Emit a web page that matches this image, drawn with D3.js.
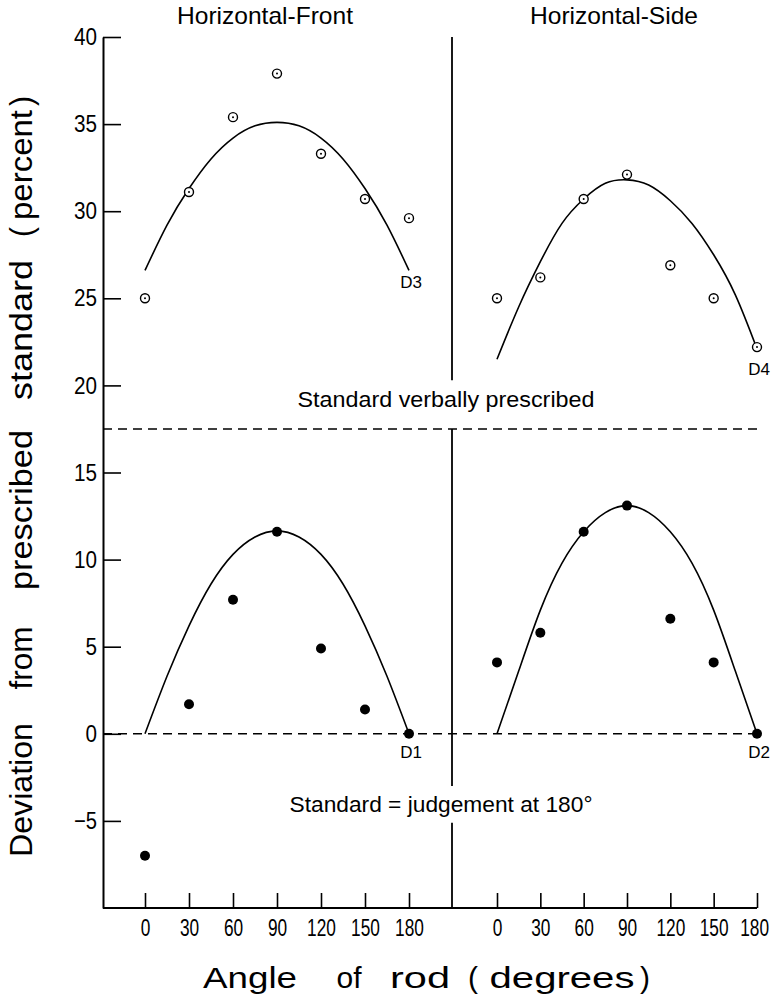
<!DOCTYPE html>
<html>
<head>
<meta charset="utf-8">
<script src="https://cdn.jsdelivr.net/npm/d3@7"></script>
<style>
  body { margin: 0; background: #fff; }
  svg { display: block; font-family: "Liberation Sans", Arial, sans-serif; }
  text { fill: #000; }
</style>
</head>
<body>
<svg id="svg1" width="774" height="996"></svg>
<script>
// measured points, angle of rod (degrees) vs deviation (percent)
var angles = [0, 30, 60, 90, 120, 150, 180];
var frontTop = [25.0, 31.1, 35.4, 37.9, 33.3, 30.7, 29.6];     // D3
var sideTop = [25.0, 26.2, 30.7, 32.1, 26.9, 25.0, 22.2];      // D4
var frontBottom = [-7.0, 1.7, 7.7, 11.6, 4.9, 1.4, 0];          // D1
var sideBottom = [4.1, 5.8, 11.6, 13.1, 6.6, 4.1, 0];           // D2

// fitted curves, every 15 degrees
var fitAngles = [0, 15, 30, 45, 60, 75, 90, 105, 120, 135, 150, 165, 180];
var frontTopFit = [26.6, 29.2, 31.3, 33.0, 34.2, 34.9, 35.1, 34.9, 34.2, 33.0, 31.3, 29.2, 26.6];
var sideTopFit = [21.5, 24.5, 27.1, 29.3, 30.7, 31.6, 31.8, 31.5, 30.6, 29.3, 27.5, 25.2, 22.1];
var frontBottomFit = [0, 3.3, 6.2, 8.6, 10.3, 11.3, 11.65, 11.3, 10.3, 8.6, 6.2, 3.3, 0];
var sideBottomFit = [0, 3.6, 7.1, 9.8, 11.6, 12.7, 13.1, 12.7, 11.6, 9.8, 7.1, 3.6, 0];

var yTicks = [-5, 0, 5, 10, 15, 20, 25, 30, 35, 40];
var standardLevel = 17.5;
var zeroLevel = 0;

var svg = d3.select('svg');

var y = d3.scaleLinear().domain([-10, 40]).range([908, 37]);
var xL = d3.scaleLinear().domain([0, 180]).range([145, 409]);
var xR = d3.scaleLinear().domain([0, 180]).range([497, 757]);
var axisX = 103;
var dividerX = 452;

// y axis, ticks pointing inward
var yAxis = svg.append('g')
    .attr('transform', 'translate(' + axisX + ',0)')
    .call(d3.axisLeft(y).tickValues(yTicks).tickSizeInner(-18).tickSizeOuter(0).tickPadding(6));
yAxis.select('.domain').attr('stroke-width', 2);
yAxis.selectAll('.tick line').attr('stroke-width', 1.6);
yAxis.selectAll('.tick text')
    .attr('font-size', 24)
    .attr('font-family', '"Liberation Sans", Arial, sans-serif')
    .attr('textLength', function(d) { return String(d).length * 11.5; })
    .attr('lengthAdjust', 'spacingAndGlyphs');

// bottom line
svg.append('line')
    .attr('x1', axisX).attr('x2', xR(180))
    .attr('y1', y(-10)).attr('y2', y(-10))
    .attr('stroke', '#000').attr('stroke-width', 2);

[xL, xR].forEach(function(sc) {
    var g = svg.append('g')
        .attr('transform', 'translate(0,' + y(-10) + ')')
        .call(d3.axisBottom(sc).tickValues(angles).tickSizeInner(-15).tickSizeOuter(0).tickPadding(11));
    g.select('.domain').remove();
    g.selectAll('.tick line').attr('stroke-width', 1.6);
    // narrow face: squeeze the digits sideways
    g.selectAll('.tick text')
        .attr('font-size', 24)
        .attr('font-family', '"Liberation Sans", Arial, sans-serif')
        .attr('transform', 'scale(0.72,1)');
    if (sc === xR) {
        g.selectAll('.tick text').filter(function(d) { return d === 180; }).attr('dx', -4);
    }
});

// divider between the two panels, broken where the text crosses it
[[40, 20.3], [standardLevel, -3.0], [-5.1, -10]].forEach(function(s) {
    svg.append('line')
        .attr('x1', dividerX).attr('x2', dividerX)
        .attr('y1', y(s[0])).attr('y2', y(s[1]))
        .attr('stroke', '#000').attr('stroke-width', 1.8);
});

// dashed reference lines
[standardLevel, zeroLevel].forEach(function(v) {
    svg.append('line')
        .attr('x1', axisX).attr('x2', xR(180))
        .attr('y1', y(v)).attr('y2', y(v))
        .attr('stroke', '#000').attr('stroke-width', 1.5)
        .attr('stroke-dasharray', '9,6');
});

var panels = [
    {x: xL, fit: frontTopFit, pts: frontTop, open: true, label: 'D3', ly: 25.6},
    {x: xR, fit: sideTopFit, pts: sideTop, open: true, label: 'D4', ly: 20.6},
    {x: xL, fit: frontBottomFit, pts: frontBottom, open: false, label: 'D1', ly: -1.4},
    {x: xR, fit: sideBottomFit, pts: sideBottom, open: false, label: 'D2', ly: -1.4}
];

panels.forEach(function(p) {
    var line = d3.line()
        .x(function(d, i) { return p.x(fitAngles[i]); })
        .y(function(d) { return y(d); })
        .curve(d3.curveNatural);

    svg.append('path')
        .datum(p.fit)
        .attr('d', line)
        .attr('fill', 'none')
        .attr('stroke', '#000')
        .attr('stroke-width', 1.6);

    var pts = svg.selectAll(null)
        .data(p.pts)
        .enter()
        .append('g')
        .attr('transform', function(d, i) { return 'translate(' + p.x(angles[i]) + ',' + y(d) + ')'; });

    if (p.open) {
        pts.append('circle').attr('r', 4.5).attr('fill', '#fff').attr('stroke', '#000').attr('stroke-width', 1.4);
        pts.append('circle').attr('r', 1).attr('fill', '#000');
    } else {
        pts.append('circle').attr('r', 5).attr('fill', '#000');
    }

    svg.append('text')
        .attr('x', p.x(180) + 2)
        .attr('y', y(p.ly))
        .attr('text-anchor', 'middle')
        .attr('font-size', 17)
        .text(p.label);
});

// panel titles
svg.append('text').attr('x', 265).attr('y', 24).attr('text-anchor', 'middle')
    .attr('font-size', 24).attr('textLength', 176).attr('lengthAdjust', 'spacingAndGlyphs')
    .text('Horizontal-Front');
svg.append('text').attr('x', 614).attr('y', 24).attr('text-anchor', 'middle')
    .attr('font-size', 24).attr('textLength', 168).attr('lengthAdjust', 'spacingAndGlyphs')
    .text('Horizontal-Side');

// annotations
svg.append('text').attr('x', 446).attr('y', 407).attr('text-anchor', 'middle')
    .attr('font-size', 22).attr('textLength', 297).attr('lengthAdjust', 'spacingAndGlyphs')
    .text('Standard verbally prescribed');
svg.append('text').attr('x', 441).attr('y', 812).attr('text-anchor', 'middle')
    .attr('font-size', 22).attr('textLength', 303).attr('lengthAdjust', 'spacingAndGlyphs')
    .text('Standard = judgement at 180°');

// y axis title, word by word
var yWords = [['Deviation', 790, 134], ['from', 658, 63], ['prescribed', 510, 160], ['standard', 330, 140], ['(', 232, 10], ['percent', 165, 110], [')', 101, 10]];
yWords.forEach(function(w) {
    svg.append('text')
        .attr('transform', 'translate(32,' + w[1] + ') rotate(-90)')
        .attr('text-anchor', 'middle')
        .attr('font-size', 31)
        .attr('textLength', w[2]).attr('lengthAdjust', 'spacingAndGlyphs')
        .text(w[0]);
});

// x axis title
var xWords = [['Angle', 250, 94], ['of', 349, 25], ['rod', 420, 60], ['(', 473, 10], ['degrees', 562, 145], [')', 645, 10]];
xWords.forEach(function(w) {
    svg.append('text')
        .attr('x', w[1]).attr('y', 988)
        .attr('text-anchor', 'middle')
        .attr('font-size', 30)
        .attr('textLength', w[2]).attr('lengthAdjust', 'spacingAndGlyphs')
        .text(w[0]);
});
</script>
</body>
</html>
